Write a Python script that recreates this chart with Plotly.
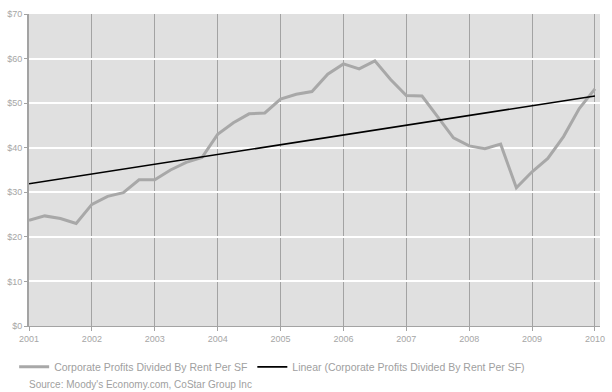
import numpy as np
import plotly.graph_objects as go

# Quarterly observations, 2001 Q1 through 2010 Q1
quarters = [2001 + i * 0.25 for i in range(37)]
profits_per_sf = [
    23.7, 24.7, 24.1, 23.0,
    27.3, 29.1, 29.9, 32.8,
    32.8, 35.0, 36.7, 37.8,
    43.0, 45.6, 47.6, 47.8,
    50.9, 52.0, 52.6, 56.5,
    58.8, 57.7, 59.5, 55.3,
    51.7, 51.6, 46.9, 42.2,
    40.4, 39.8, 40.8, 31.0,
    34.6, 37.6, 42.5, 48.8,
    53.2,
]
year_ticks = list(range(2001, 2011))
dollar_ticks = list(range(0, 80, 10))

series_name = "Corporate Profits Divided By Rent Per SF"
trend_name = "Linear (Corporate Profits Divided By Rent Per SF)"
source_text = "Source: Moody's Economy.com, CoStar Group Inc"

# Least-squares linear trendline over the series
idx = np.arange(len(profits_per_sf))
slope, intercept = np.polyfit(idx, profits_per_sf, 1)
trend = (slope * idx + intercept).tolist()

label_color = "#a6a6a6"
font_family = "Liberation Sans, Arial, sans-serif"

fig = go.Figure()
fig.add_trace(go.Scatter(
    x=quarters, y=profits_per_sf, mode="lines", name=series_name,
    line=dict(color="#a8a8a8", width=3),
))
fig.add_trace(go.Scatter(
    x=quarters, y=trend, mode="lines", name=trend_name,
    line=dict(color="#000000", width=1.6),
))

fig.update_layout(
    width=612, height=392,
    margin=dict(l=28, r=7, t=14, b=66),
    paper_bgcolor="#ffffff",
    plot_bgcolor="#e0e0e0",
    font=dict(family=font_family, size=9, color=label_color),
    showlegend=True,
    legend=dict(
        orientation="h", x=-0.026, y=-0.131, xanchor="left", yanchor="middle",
        font=dict(size=10.5, color="#a0a0a0"),
        itemwidth=30, tracegroupgap=0, traceorder="normal",
        bgcolor="rgba(0,0,0,0)",
    ),
    annotations=[dict(
        text=source_text, xref="paper", yref="paper",
        x=-0.004, y=-0.163, xanchor="left", yanchor="top",
        showarrow=False, font=dict(size=10, color="#a0a0a0"),
    )],
)

fig.update_xaxes(
    range=[2001, 2010.08],
    tickvals=year_ticks, ticktext=[str(y) for y in year_ticks],
    showgrid=True, gridcolor="#a3a3a3", gridwidth=1,
    showline=True, linecolor="#a3a3a3", linewidth=1,
    ticks="outside", ticklen=4, tickcolor="#a3a3a3",
    zeroline=False,
    tickfont=dict(size=9, color=label_color),
)
fig.update_yaxes(
    range=[0, 70],
    tickvals=dollar_ticks, ticktext=[f"${v}" for v in dollar_ticks],
    showgrid=True, gridcolor="#ffffff", gridwidth=1.5,
    showline=True, linecolor="#a3a3a3", linewidth=2,
    ticks="outside", ticklen=3, tickcolor="#a3a3a3",
    zeroline=False,
    tickfont=dict(size=9, color=label_color),
)

fig.write_html("out.html")
